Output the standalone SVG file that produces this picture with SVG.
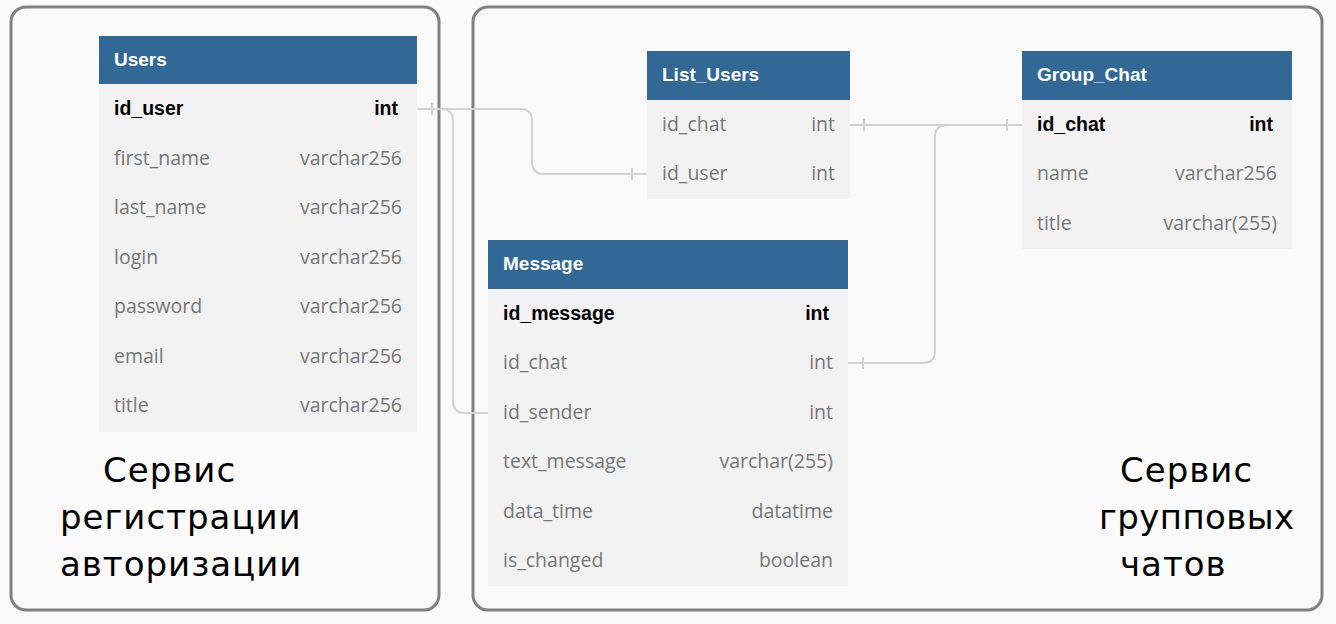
<svg xmlns="http://www.w3.org/2000/svg" width="1336" height="624" viewBox="0 0 1336 624">
<style>
.bg{fill:#fafafa}
.box{fill:none;stroke:#808080;stroke-width:3}
.hdr{fill:#316895}
.body{fill:#f2f2f2}
.ht{font-family:"Liberation Sans",Arial,sans-serif;font-weight:bold;font-size:19px;fill:#ffffff}
.pk{font-family:"Liberation Sans",Arial,sans-serif;font-weight:bold;font-size:19.5px;fill:#000000}
.f{font-family:"Open Sans","DejaVu Sans",sans-serif;font-size:19.5px;fill:#777777}
.end{text-anchor:end}
.conn{fill:none;stroke:#d3d3d3;stroke-width:2}
.big{font-family:"DejaVu Sans","Noto Sans",sans-serif;font-size:34px;fill:#000000;letter-spacing:1px}
.tight{letter-spacing:0.4px}
</style>
<rect class="bg" x="0" y="0" width="1336" height="624"/>
<g id="service-auth">
<rect class="box" x="11" y="7" width="428" height="603" rx="15"/>
<text class="big" x="103" y="482">Сервис</text>
<text class="big" x="60" y="529">регистрации</text>
<text class="big" x="60" y="576">авторизации</text>
</g>
<g id="service-chat">
<rect class="box" x="473" y="7" width="849" height="603" rx="15"/>
<text class="big" x="1120" y="482">Сервис</text>
<text class="big tight" x="1099" y="529">групповых</text>
<text class="big" x="1120" y="576">чатов</text>
</g>
<g id="connectors">
<path class="conn" d="M417,109 H520 Q532,109 532,121 V162 Q532,174 544,174 H647"/>
<path class="conn" d="M417,109 H441 Q453,109 453,121 V401 Q453,413 465,413 H488"/>
<path class="conn" d="M850,125 H1022"/>
<path class="conn" d="M848,363 H923 Q935,363 935,351 V137 Q935,125 947,125 H1022"/>
<path class="conn" d="M432,103 V115 M632,168 V180 M864,119 V131 M1007,119 V131 M863,357 V369"/>
</g>
<g id="Users">
<rect class="hdr" x="99" y="36" width="318" height="48"/>
<rect class="body" x="99" y="84" width="318" height="348"/>
<text class="ht" x="114" y="66">Users</text>
<text class="pk" x="114" y="115">id_user</text><text class="pk end" x="398" y="115">int</text>
<text class="f" x="114" y="165">first_name</text><text class="f end" x="402" y="165">varchar256</text>
<text class="f" x="114" y="214">last_name</text><text class="f end" x="402" y="214">varchar256</text>
<text class="f" x="114" y="264">login</text><text class="f end" x="402" y="264">varchar256</text>
<text class="f" x="114" y="313">password</text><text class="f end" x="402" y="313">varchar256</text>
<text class="f" x="114" y="363">email</text><text class="f end" x="402" y="363">varchar256</text>
<text class="f" x="114" y="412">title</text><text class="f end" x="402" y="412">varchar256</text>
</g>
<g id="List_Users">
<rect class="hdr" x="647" y="51" width="203" height="49"/>
<rect class="body" x="647" y="100" width="203" height="99"/>
<text class="ht" x="662" y="81">List_Users</text>
<text class="f" x="662" y="131">id_chat</text><text class="f end" x="835" y="131">int</text>
<text class="f" x="662" y="180">id_user</text><text class="f end" x="835" y="180">int</text>
</g>
<g id="Group_Chat">
<rect class="hdr" x="1022" y="51" width="270" height="49"/>
<rect class="body" x="1022" y="100" width="270" height="149"/>
<text class="ht" x="1037" y="81">Group_Chat</text>
<text class="pk" x="1037" y="131">id_chat</text><text class="pk end" x="1273" y="131">int</text>
<text class="f" x="1037" y="180">name</text><text class="f end" x="1277" y="180">varchar256</text>
<text class="f" x="1037" y="230">title</text><text class="f end" x="1277" y="230">varchar(255)</text>
</g>
<g id="Message">
<rect class="hdr" x="488" y="240" width="360" height="49"/>
<rect class="body" x="488" y="289" width="360" height="297"/>
<text class="ht" x="503" y="270">Message</text>
<text class="pk" x="503" y="320">id_message</text><text class="pk end" x="829" y="320">int</text>
<text class="f" x="503" y="369">id_chat</text><text class="f end" x="833" y="369">int</text>
<text class="f" x="503" y="419">id_sender</text><text class="f end" x="833" y="419">int</text>
<text class="f" x="503" y="468">text_message</text><text class="f end" x="833" y="468">varchar(255)</text>
<text class="f" x="503" y="518">data_time</text><text class="f end" x="833" y="518">datatime</text>
<text class="f" x="503" y="567">is_changed</text><text class="f end" x="833" y="567">boolean</text>
</g>
</svg>
